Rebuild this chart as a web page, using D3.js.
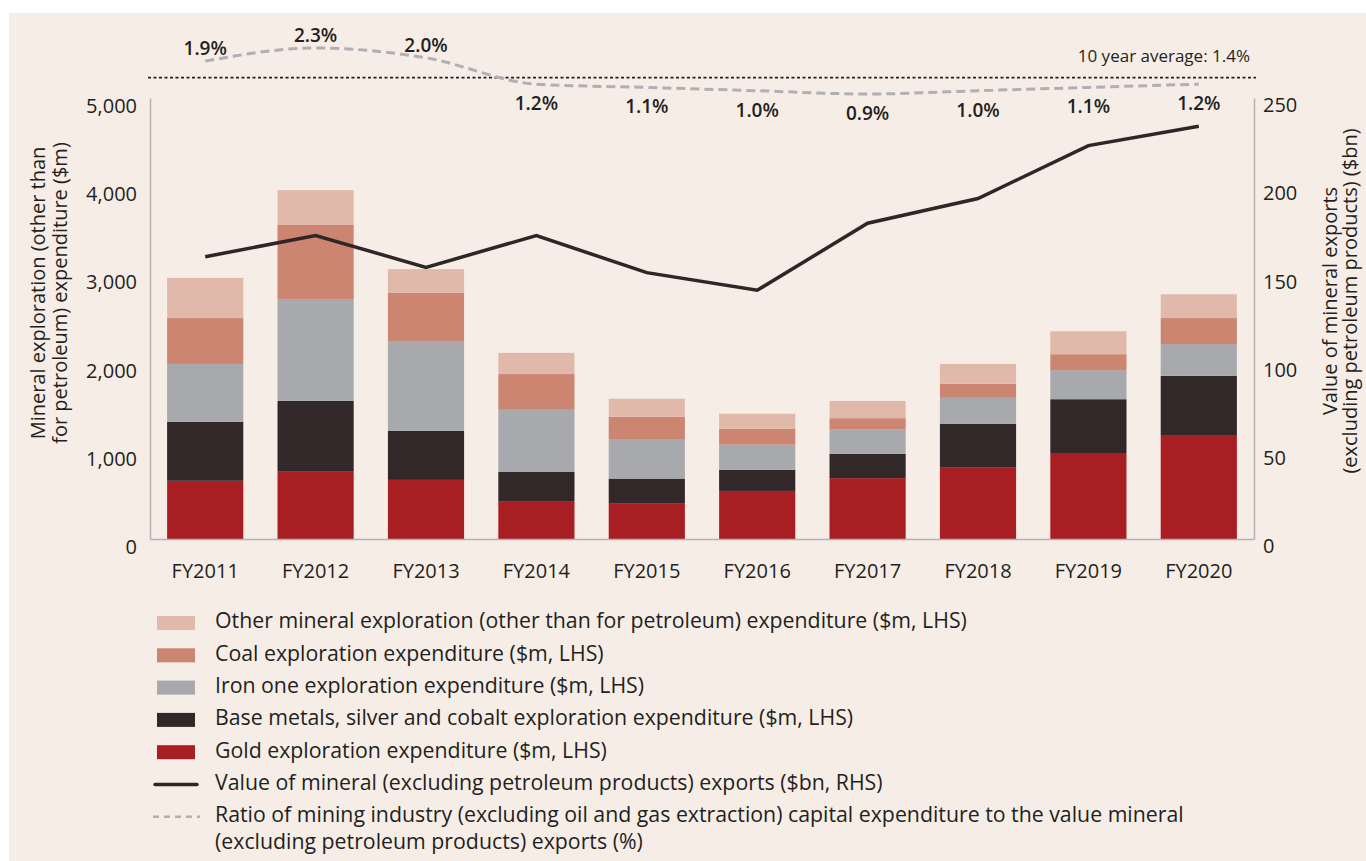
<!DOCTYPE html>
<html>
<head>
<meta charset="utf-8">
<script src="https://cdn.jsdelivr.net/npm/d3@7"></script>
<style>
    body { margin: 0; background: #ffffff; }
    svg { display: block; font-family: "Open Sans", "Noto Sans", sans-serif; }
    svg text { font-family: "Open Sans", "Noto Sans", sans-serif; }
    .axis text { font-size: 20px; fill: #231f20; }
    .axis path { stroke: #b3b3b3; stroke-width: 1.5px; }
    .title { font-size: 20px; fill: #231f20; }
    .pct { font-size: 19px; font-weight: 600; fill: #231f20; }
    .legend text { font-size: 21.3px; fill: #231f20; }
</style>
</head>
<body>
<svg width="1366" height="861"></svg>
<script>
    // values
    var years = ["FY2011", "FY2012", "FY2013", "FY2014", "FY2015", "FY2016", "FY2017", "FY2018", "FY2019", "FY2020"];
    var gold = [660, 770, 670, 430, 400, 545, 690, 815, 975, 1170];
    var baseMetals = [670, 795, 555, 330, 285, 240, 275, 490, 610, 680];
    var ironOre = [655, 1155, 1020, 705, 440, 285, 280, 295, 330, 360];
    var coal = [520, 840, 545, 405, 260, 180, 125, 160, 180, 295];
    var otherMineral = [455, 395, 270, 240, 205, 170, 195, 225, 260, 270];
    var mineralExports = [160, 172, 154, 172, 151, 141, 179, 193, 223, 234];
    var capexRatio = [1.9, 2.3, 2.0, 1.2, 1.1, 1.0, 0.9, 1.0, 1.1, 1.2];
    var tenYearAverage = 1.4;

    var leftTicks = [0, 1000, 2000, 3000, 4000, 5000];
    var rightTicks = [0, 50, 100, 150, 200, 250];

    var seriesKeys = ["gold", "base", "iron", "coal", "other"];
    var seriesColors = {
        gold: "#a81e23",
        base: "#322829",
        iron: "#a8a9ac",
        coal: "#cb8571",
        other: "#e1b9ab"
    };
    var legendItems = [
        { type: "rect", key: "other", text: ["Other mineral exploration (other than for petroleum) expenditure ($m, LHS)"] },
        { type: "rect", key: "coal", text: ["Coal exploration expenditure ($m, LHS)"] },
        { type: "rect", key: "iron", text: ["Iron one exploration expenditure ($m, LHS)"] },
        { type: "rect", key: "base", text: ["Base metals, silver and cobalt exploration expenditure ($m, LHS)"] },
        { type: "rect", key: "gold", text: ["Gold exploration expenditure ($m, LHS)"] },
        { type: "line", text: ["Value of mineral (excluding petroleum products) exports ($bn, RHS)"] },
        { type: "dash", text: ["Ratio of mining industry (excluding oil and gas extraction) capital expenditure to the value mineral",
                               "(excluding petroleum products) exports (%)"] }
    ];

    var svg = d3.select("svg");

    svg.append("rect")
        .attr("x", 9).attr("y", 13)
        .attr("width", 1366 - 9).attr("height", 861 - 13)
        .attr("fill", "#f6ede7");

    //build table for stack
    var table = years.map(function(y, i) {
        return { year: y, gold: gold[i], base: baseMetals[i], iron: ironOre[i], coal: coal[i], other: otherMineral[i] };
    });

    var plotLeft = 150, plotRight = 1254, plotTop = 98, plotBottom = 539;

    var x = d3.scaleBand().domain(years).range([plotLeft, plotRight]).paddingInner(0.31).paddingOuter(0.155);
    var yL = d3.scaleLinear().domain([0, 5000]).range([plotBottom, plotTop]);
    var yR = d3.scaleLinear().domain([0, 250]).range([plotBottom, plotTop]);
    var yPct = d3.scaleLinear().domain([0.9, 2.3]).range([94, 48]);

    var stacked = d3.stack().keys(seriesKeys)(table);

    svg.append("g").selectAll("g")
        .data(stacked)
        .enter().append("g")
        .attr("fill", function(d) { return seriesColors[d.key]; })
        .selectAll("rect")
        .data(function(d) { return d; })
        .enter().append("rect")
        .attr("x", function(d) { return x(d.data.year); })
        .attr("y", function(d) { return yL(d[1]); })
        .attr("width", x.bandwidth())
        .attr("height", function(d) { return yL(d[0]) - yL(d[1]); });

    // axes
    svg.append("g")
        .attr("class", "axis")
        .attr("transform", "translate(0," + plotBottom + ")")
        .call(d3.axisBottom(x).tickSize(0).tickPadding(25));

    var gl = svg.append("g")
        .attr("class", "axis")
        .attr("transform", "translate(" + plotLeft + ",0)")
        .call(d3.axisLeft(yL).tickValues(leftTicks).tickFormat(d3.format(",")).tickSize(0).tickPadding(13));
    gl.selectAll("text").attr("dy", "0.72em");

    var gr = svg.append("g")
        .attr("class", "axis")
        .attr("transform", "translate(" + plotRight + ",0)")
        .call(d3.axisRight(yR).tickValues(rightTicks).tickSize(0).tickPadding(9));
    gr.selectAll("text").attr("dy", "0.68em");

    // axis titles
    var lt = svg.append("text")
        .attr("class", "title")
        .attr("transform", "translate(38,293) rotate(-90)")
        .attr("text-anchor", "middle");
    lt.append("tspan").attr("x", 0).attr("dy", "0.35em").text("Mineral exploration (other than");
    lt.append("tspan").attr("x", 0).attr("dy", "1.1em").text("for petroleum) expenditure ($m)");

    var rt = svg.append("text")
        .attr("class", "title")
        .attr("transform", "translate(1330,301) rotate(-90)")
        .attr("text-anchor", "middle");
    rt.append("tspan").attr("x", 0).attr("dy", "0.35em").text("Value of mineral exports");
    rt.append("tspan").attr("x", 0).attr("dy", "1em").text("(excluding petroleum products) ($bn)");

    // exports line
    var cx = function(d, i) { return x(years[i]) + x.bandwidth() / 2; };

    svg.append("path")
        .datum(mineralExports)
        .attr("fill", "none")
        .attr("stroke", "#2f2627")
        .attr("stroke-width", 3.5)
        .attr("d", d3.line().x(cx).y(function(d) { return yR(d); }));

    // ten year average
    svg.append("line")
        .attr("x1", plotLeft - 2).attr("x2", plotRight + 2)
        .attr("y1", yPct(tenYearAverage)).attr("y2", yPct(tenYearAverage))
        .attr("stroke", "#231f20")
        .attr("stroke-width", 1.8)
        .attr("stroke-dasharray", "3,2.5");

    svg.append("text")
        .attr("x", plotRight - 4)
        .attr("y", yPct(tenYearAverage) - 16)
        .attr("text-anchor", "end")
        .style("font-size", "17px")
        .style("fill", "#231f20")
        .text("10 year average: " + tenYearAverage + "%");

    // ratio line
    svg.append("path")
        .datum(capexRatio)
        .attr("fill", "none")
        .attr("stroke", "#b0b0b3")
        .attr("stroke-width", 3)
        .attr("stroke-dasharray", "9,5")
        .attr("d", d3.line().x(cx).y(function(d) { return yPct(d); }).curve(d3.curveMonotoneX));

    svg.append("g").selectAll("text")
        .data(capexRatio)
        .enter().append("text")
        .attr("class", "pct")
        .attr("text-anchor", "middle")
        .attr("x", cx)
        .attr("y", function(d) { return d > tenYearAverage ? yPct(d) - 6 : yPct(d) + 26; })
        .text(function(d) { return d3.format(".1f")(d) + "%"; });

    // legend
    var legend = svg.append("g").attr("class", "legend");
    var rowY = d3.scaleLinear().domain([0, 1]).range([623, 655.3]);

    legendItems.forEach(function(item, i) {
        var yy = rowY(i);
        if (item.type == "rect") {
            legend.append("rect")
                .attr("x", 157).attr("y", yy - 7)
                .attr("width", 38).attr("height", 14)
                .attr("fill", seriesColors[item.key]);
        } else if (item.type == "line") {
            legend.append("line")
                .attr("x1", 155).attr("x2", 197)
                .attr("y1", yy).attr("y2", yy)
                .attr("stroke", "#2f2627").attr("stroke-width", 3.5)
                .attr("stroke-linecap", "round");
        } else {
            legend.append("line")
                .attr("x1", 153).attr("x2", 200)
                .attr("y1", yy).attr("y2", yy)
                .attr("stroke", "#b0b0b3").attr("stroke-width", 2.5)
                .attr("stroke-dasharray", "6,5");
        }
        var t = legend.append("text").attr("x", 215).attr("y", yy - 2);
        item.text.forEach(function(line, j) {
            t.append("tspan").attr("x", 215).attr("dy", j == 0 ? "0.35em" : "1.25em").text(line);
        });
    });
</script>
</body>
</html>
